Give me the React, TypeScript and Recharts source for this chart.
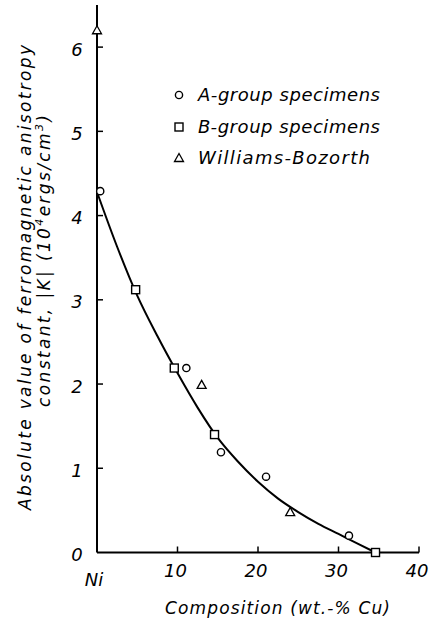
import { ComposedChart, Line, Scatter, XAxis, YAxis } from "recharts"

// smooth fitted curve
const curveX = [0, 2.5, 5, 7.5, 10, 12.5, 15, 17.5, 20, 22.5, 25, 27.5, 30, 32.5, 34.6]
const curveY = [4.28, 3.63, 3.05, 2.57, 2.13, 1.72, 1.36, 1.08, 0.84, 0.64, 0.48, 0.34, 0.22, 0.1, 0]

// measured specimens
const groupAX = [0.4, 11.1, 15.4, 21.0, 31.3]
const groupAY = [4.29, 2.19, 1.19, 0.9, 0.2]
const groupBX = [4.8, 9.6, 14.6, 34.6]
const groupBY = [3.12, 2.19, 1.4, 0]
const williamsX = [0, 13.0, 24.0]
const williamsY = [6.2, 1.99, 0.48]

const xTicks = [0, 10, 20, 30, 40]
const xTickLabels = ["Ni", "10", "20", "30", "40"]
const yTicks = [0, 1, 2, 3, 4, 5, 6]

const legendLabels = ["A-group specimens", "B-group specimens", "Williams-Bozorth"]

const FONT = "'DejaVu Sans', sans-serif"

const zip = (xs: number[], ys: number[]) => xs.map((x, i) => ({ x, y: ys[i] }))

const curve = zip(curveX, curveY)
const groupA = zip(groupAX, groupAY)
const groupB = zip(groupBX, groupBY)
const williams = zip(williamsX, williamsY)

const circleShape = (p: any) => (
  <circle cx={p.cx} cy={p.cy} r={3.6} fill="#fff" stroke="#000" strokeWidth={1.4} />
)
const squareShape = (p: any) => (
  <rect x={p.cx - 4} y={p.cy - 4} width={8} height={8} fill="#fff" stroke="#000" strokeWidth={1.4} />
)
const triangleShape = (p: any) => (
  <path
    d={`M${p.cx},${p.cy - 4.5}L${p.cx + 4.5},${p.cy + 3.5}L${p.cx - 4.5},${p.cy + 3.5}Z`}
    fill="#fff"
    stroke="#000"
    strokeWidth={1.3}
  />
)

const XTick = (props: any) => {
  const { x, y, payload } = props
  const i = xTicks.indexOf(payload.value)
  const isNi = payload.value === 0
  return (
    <g>
      {!isNi && <line x1={x} y1={y} x2={x} y2={y - 6} stroke="#000" strokeWidth={1.5} />}
      <text
        x={isNi ? x - 3 : x - 2}
        y={isNi ? y + 33 : y + 24.5}
        textAnchor="middle"
        fontFamily={FONT}
        fontStyle="italic"
        fontSize={18}
        fill="#000"
      >
        {xTickLabels[i]}
      </text>
    </g>
  )
}

const YTick = (props: any) => {
  const { x, y, payload } = props
  return (
    <g>
      {payload.value > 0 && <line x1={x} y1={y} x2={x + 6} y2={y} stroke="#000" strokeWidth={1.5} />}
      <text
        x={x - 20}
        y={y + 8.5}
        textAnchor="middle"
        fontFamily={FONT}
        fontStyle="italic"
        fontSize={18}
        fill="#000"
      >
        {payload.value}
      </text>
    </g>
  )
}

export default function App() {
  const legendShapes = [circleShape, squareShape, triangleShape]
  return (
    <div style={{ position: "absolute", left: 0, top: 0, width: 429, height: 623, background: "#fff" }}>
      <ComposedChart width={429} height={623} margin={{ top: 5, right: 10, bottom: 69.5, left: 96 }}>
        <XAxis
          type="number"
          dataKey="x"
          domain={[0, 40]}
          ticks={xTicks}
          height={1}
          tickSize={0}
          tickMargin={0}
          tick={XTick}
          axisLine={{ stroke: "#000", strokeWidth: 2 }}
        />
        <YAxis
          type="number"
          domain={[0, 6.5]}
          ticks={yTicks}
          width={1}
          tickSize={0}
          tickMargin={0}
          tick={YTick}
          axisLine={{ stroke: "#000", strokeWidth: 2 }}
        />
        <Line
          data={curve}
          dataKey="y"
          type="monotone"
          stroke="#000"
          strokeWidth={2}
          dot={false}
          isAnimationActive={false}
        />
        <Scatter data={groupA} dataKey="y" shape={circleShape} isAnimationActive={false} />
        <Scatter data={groupB} dataKey="y" shape={squareShape} isAnimationActive={false} />
        <Scatter data={williams} dataKey="y" shape={triangleShape} isAnimationActive={false} />
      </ComposedChart>
      <svg
        width={429}
        height={623}
        style={{ position: "absolute", left: 0, top: 0, pointerEvents: "none" }}
        fontFamily={FONT}
        fontStyle="italic"
        fill="#000"
      >
        <text
          transform="translate(31,277.5) rotate(-90)"
          textAnchor="middle"
          fontSize={17}
          textLength={465}
          lengthAdjust="spacing"
        >
          Absolute value of ferromagnetic anisotropy
        </text>
        <text
          transform="translate(50,261) rotate(-90)"
          textAnchor="middle"
          fontSize={17}
          textLength={292}
          lengthAdjust="spacing"
        >
          constant, |K| (10
          <tspan fontSize={11} dy={-7}>4</tspan>
          <tspan dy={7}>ergs/cm</tspan>
          <tspan fontSize={11} dy={-7}>3</tspan>
          <tspan dy={7}>)</tspan>
        </text>
        <text x={277.5} y={614} textAnchor="middle" fontSize={17} textLength={225} lengthAdjust="spacing">
          Composition (wt.-% Cu)
        </text>
        {legendLabels.map((label, i) => {
          const cy = [95, 127, 158][i]
          const Shape = legendShapes[i]
          return (
            <g key={label}>
              {Shape({ cx: 179, cy })}
              <text x={198} y={cy + 6} fontSize={18} textLength={i === 2 ? 172 : 182} lengthAdjust="spacing">
                {label}
              </text>
            </g>
          )
        })}
      </svg>
    </div>
  )
}
